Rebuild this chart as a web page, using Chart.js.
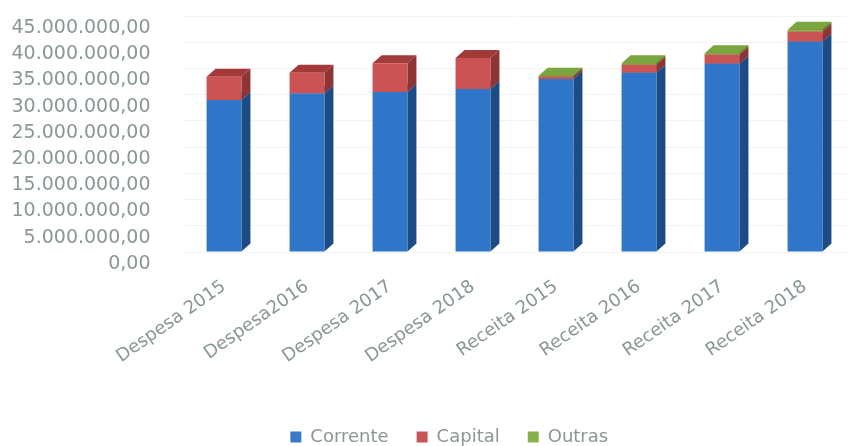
<!DOCTYPE html>
<html><head><meta charset="utf-8">
<script src="https://cdn.jsdelivr.net/npm/chart.js@4.4.1/dist/chart.umd.min.js"></script>
<style>html,body{margin:0;padding:0;background:#fff;overflow:hidden}#wrap{width:852px;height:446px;position:relative}</style>
</head><body><div id="wrap"><canvas id="c"></canvas></div>
<script>
const categories = ['Despesa 2015','Despesa2016','Despesa 2017','Despesa 2018','Receita 2015','Receita 2016','Receita 2017','Receita 2018'];
const seriesNames = ['Corrente','Capital','Outras'];
const corrente = [29000000, 30200000, 30500000, 31100000, 33000000, 34200000, 35900000, 40100000];
const capital  = [4400000, 4000000, 5500000, 5900000, 400000, 1500000, 1700000, 1900000];
const outras   = [0, 0, 0, 0, 200000, 300000, 300000, 400000];
const yMin = 0, yMax = 45000000, yStep = 5000000;

const frontColors = ['#2f76c8', '#cc5353', '#8db552'];
const sideColors  = ['#1d4c85', '#8e3434', '#5f7f30'];
const topColors   = ['#3d80cf', '#a23a3a', '#7aa640'];
const legendColors = ['#3a78c8', '#c8545a', '#8ab04c'];
const labelColor = '#8a9894';

function fmt(v){
  const s = Math.round(v).toString().replace(/\B(?=(\d{3})+(?!\d))/g, '.');
  return s + ',00';
}

const DX = 9, DY = 8;
const LEGEND_H = 46;
const bar3d = {
  id: 'bar3d',
  afterLayout(chart){
    const s = 26;
    chart.legend.left += s; chart.legend.right += s;
  },
  beforeDatasetsDraw(chart){
    const ctx = chart.ctx;
    ctx.save();
    chart.data.datasets.forEach((ds, i) => {
      const meta = chart.getDatasetMeta(i);
      meta.data.forEach((bar, j) => {
        if (!ds.data[j]) return;
        const p = bar.getProps(['x','y','base','width'], true);
        const l = p.x - p.width/2, r = p.x + p.width/2;
        const top = Math.min(p.y, p.base), bot = Math.max(p.y, p.base);
        ctx.fillStyle = sideColors[i];
        ctx.beginPath();
        ctx.moveTo(r, top); ctx.lineTo(r+DX, top-DY); ctx.lineTo(r+DX, bot-DY); ctx.lineTo(r, bot);
        ctx.closePath(); ctx.fill();
        ctx.fillStyle = topColors[i];
        ctx.beginPath();
        ctx.moveTo(l, top); ctx.lineTo(r, top); ctx.lineTo(r+DX, top-DY); ctx.lineTo(l+DX, top-DY);
        ctx.closePath(); ctx.fill();
      });
    });
    ctx.restore();
  }
};

const datasets = [corrente, capital, outras].map((d, i) => ({
  label: seriesNames[i],
  data: d,
  backgroundColor: frontColors[i],
  borderWidth: 0,
  categoryPercentage: 1.0,
  barPercentage: 0.42
}));

new Chart(document.getElementById('c'), {
  type: 'bar',
  data: { labels: categories, datasets },
  plugins: [bar3d],
  options: {
    responsive: true,
    maintainAspectRatio: false,
    animation: false,
    layout: { padding: { left: 0, right: 5.5, top: 16, bottom: 0 } },
    plugins: {
      tooltip: { enabled: false },
      legend: {
        position: 'bottom',
        maxHeight: LEGEND_H,
        labels: {
          boxWidth: 11, boxHeight: 11, padding: 28,
          color: labelColor,
          font: { family: 'DejaVu Sans', size: 18 },
          generateLabels(chart){
            return seriesNames.map((n, i) => ({ text: n, fillStyle: legendColors[i], strokeStyle: legendColors[i], lineWidth: 0, datasetIndex: i, fontColor: labelColor }));
          }
        }
      }
    },
    scales: {
      x: {
        stacked: true,
        grid: { display: false },
        border: { display: false },
        ticks: {
          color: labelColor,
          font: { family: 'DejaVu Sans', size: 18 },
          minRotation: 35, maxRotation: 35,
          padding: 16,
          autoSkip: false
        },
        afterFit(scale){ scale.height = 446 - LEGEND_H - 252; }
      },
      y: {
        stacked: true,
        min: yMin, max: yMax,
        grid: { color: '#f3f3f3', drawTicks: false },
        border: { display: false },
        ticks: {
          stepSize: yStep,
          autoSkip: false,
          color: labelColor,
          font: { family: 'DejaVu Sans', size: 19 },
          padding: 32,
          labelOffset: 12,
          callback: (v) => fmt(v)
        },
        afterFit(scale){ scale.width = 182.5; scale.paddingTop = 0; scale.paddingBottom = 0; }
      }
    }
  }
});
</script>
</body></html>
